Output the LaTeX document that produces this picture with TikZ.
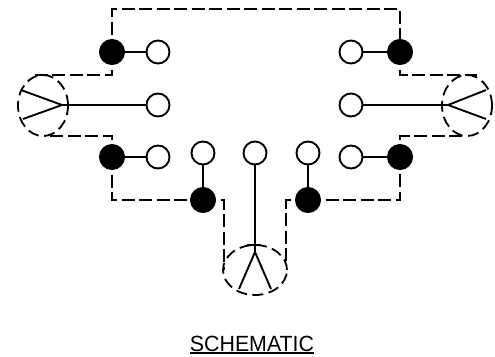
\documentclass[tikz,border=0pt]{standalone}
\usepackage{fontspec}
\setmainfont{Liberation Sans}
\usetikzlibrary{shapes.geometric}
\tikzset{
  solidw/.style={line width=1.9pt},
  dashw/.style={line width=1.9pt,dash pattern=on 13pt off 4.5pt},
  opent/.style={circle,draw,line width=1.9pt,fill=white,minimum size=23pt,inner sep=0pt},
  filledt/.style={circle,draw,line width=1pt,fill=black,minimum size=25pt,inner sep=0pt},
  coilshape/.style={ellipse,draw,line width=1.8pt,dash pattern=on 11pt off 5.5pt,inner sep=0pt},
}
\begin{document}
\begin{tikzpicture}[x=1pt,y=-1pt]
\useasboundingbox (0,0) rectangle (495,356);
% coils
\node[coilshape,minimum width=50pt,minimum height=61pt] (cl) at (43,105.5) {};
\node[coilshape,minimum width=50pt,minimum height=61pt] (cr) at (467,105.5) {};
\node[coilshape,minimum width=64pt,minimum height=50pt] (cb) at (255,270) {};
% apexes
\coordinate (al) at (62,105);
\coordinate (ar) at (448,105);
\coordinate (ab) at (255,252);
\coordinate (l1) at (21,90);
\coordinate (l2) at (23,119);
\coordinate (r1) at (486,90);
\coordinate (r2) at (486,119);
\coordinate (b1) at (239,289);
\coordinate (b2) at (271,289);
% dashed wires
\coordinate (t1) at (112,9);
\coordinate (t2) at (400,9);
\draw[dashw] (112,52) -- (t1) -- (t2) -- (400,52);
\draw[dashw] (112,52) -- (112,75) -- (35,75);
\draw[dashw] (112,157) -- (112,136) -- (45,136);
\draw[dashw] (112,157) -- (112,200) -- (203,200);
\draw[dashw] (203,200) -- (224,200) -- (224,270);
\draw[dashw] (308,200) -- (286,200) -- (286,265);
\draw[dashw] (308,200) -- (400,200) -- (400,157);
\draw[dashw] (400,52) -- (400,75) -- (477,75);
\draw[dashw] (400,157) -- (400,136) -- (465,136);
% terminals
\node[filledt] (fa) at (112,52) {};
\node[filledt] (fb) at (112,157) {};
\node[filledt] (fc) at (203,200) {};
\node[filledt] (fd) at (308,200) {};
\node[filledt] (fe) at (400,157) {};
\node[filledt] (ff) at (400,52) {};
\node[opent] (oa) at (158,52) {};
\node[opent] (ob) at (158,105) {};
\node[opent] (oc) at (158,157) {};
\node[opent] (od) at (203,153) {};
\node[opent] (oe) at (255,153) {};
\node[opent] (of) at (308,153) {};
\node[opent] (og) at (351,157) {};
\node[opent] (oh) at (351,105) {};
\node[opent] (oi) at (351,52) {};
% solid wires
\draw[solidw] (fa) -- (oa);
\draw[solidw] (fb) -- (oc);
\draw[solidw] (fc) -- (od);
\draw[solidw] (fd) -- (of);
\draw[solidw] (fe) -- (og);
\draw[solidw] (ff) -- (oi);
\draw[solidw] (l1) -- (al) -- (l2);
\draw[solidw] (r1) -- (ar) -- (r2);
\draw[solidw] (b1) -- (ab) -- (b2);
\draw[solidw] (al) -- (ob);
\draw[solidw] (ar) -- (oh);
\draw[solidw] (ab) -- (oe);
\draw[solidw] (247,245) -- (261,245);
% title
\node[font=\fontsize{22}{22}\selectfont,inner sep=0pt,xscale=0.97,anchor=base] (title) at (252,351) {SCHEMATIC};
\coordinate (ul) at (190,353);
\coordinate (ur) at (314,353);
\draw[solidw] (ul) -- (ur);
\end{tikzpicture}
\end{document}
